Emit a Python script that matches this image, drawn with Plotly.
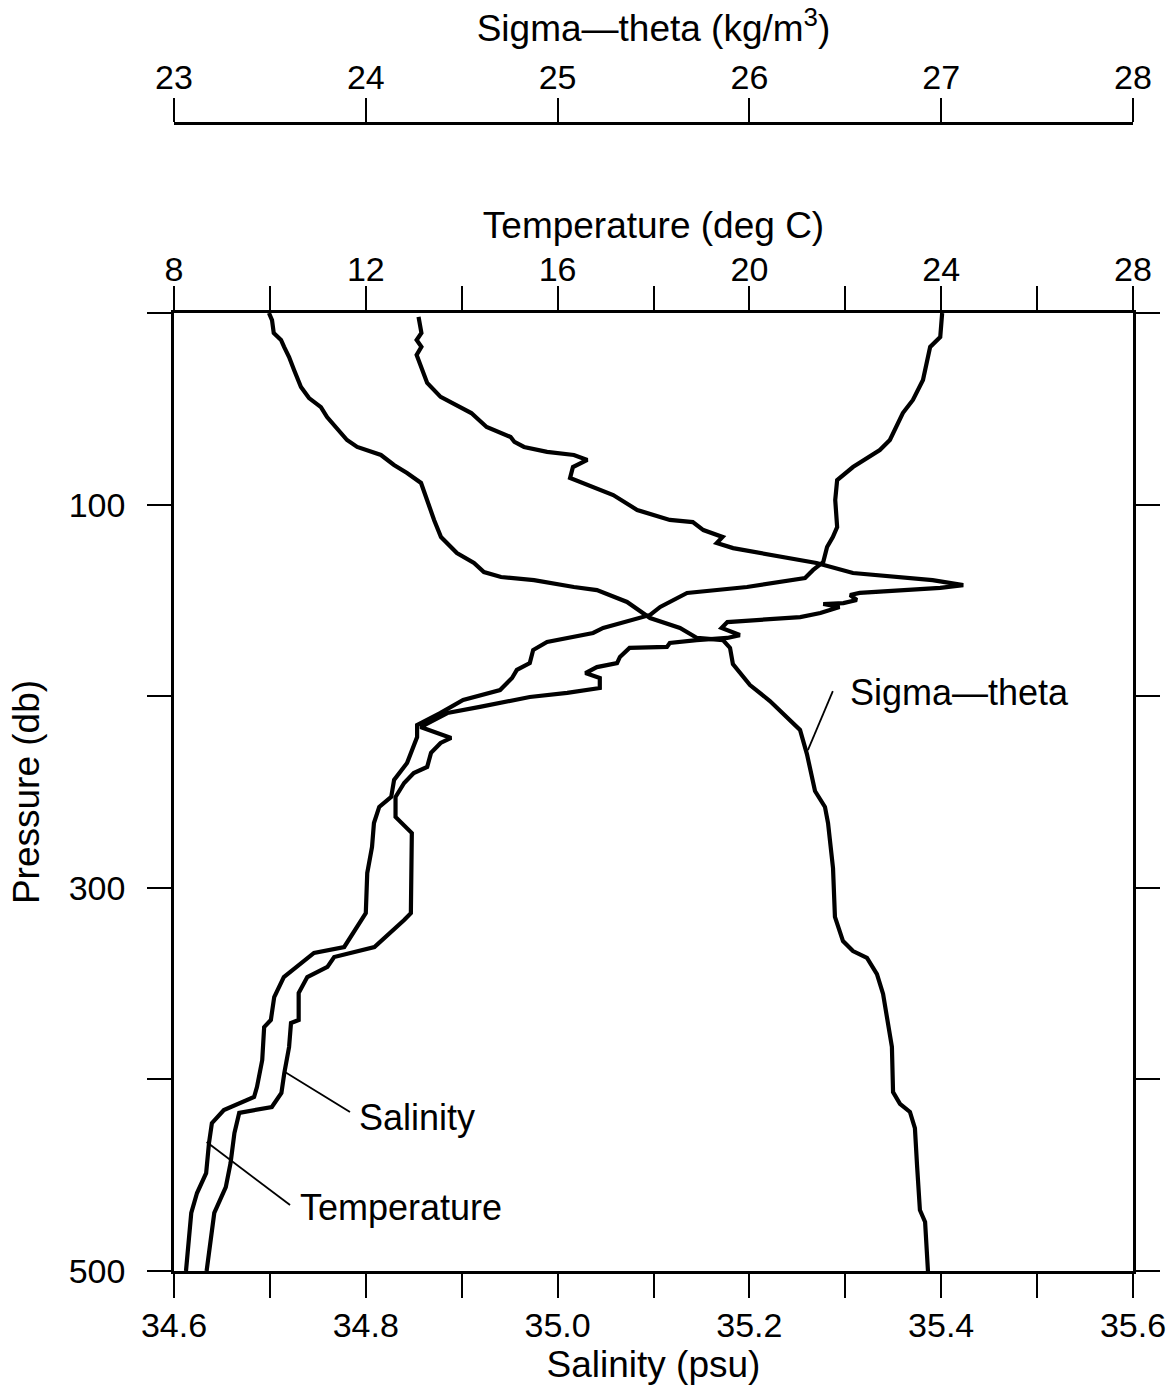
import plotly.graph_objects as go

# ---------------- data ----------------
temp_pressure = [0, 12.5, 17.7, 35.0, 45.4, 52.2, 66.3, 71.5, 80.4, 87.2, 97.6, 111.7, 116.9,
                 122.1, 130.0, 134.1, 138.3, 140.4, 143.0, 146.1, 149.8, 153.4, 157.6, 164.4,
                 167.0, 171.7, 175.9, 182.7, 186.3, 190.5, 196.8, 202.0, 208.8, 215.0, 221.3,
                 234.9, 243.7, 252.6, 257.8, 266.2, 278.7, 292.3, 313.2, 318.4, 330.9, 334.0,
                 339.2, 346.6, 357.0, 369.0, 372.7, 389.9, 404.0, 409.2, 416.0, 422.8, 433.2,
                 448.9, 459.3, 469.7, 500]
temperature = [24.02, 23.98, 23.77, 23.62, 23.41, 23.20, 22.93, 22.72, 22.16, 21.83, 21.79, 21.83,
               21.74, 21.62, 21.54, 21.33, 21.16, 20.58, 19.95, 18.70, 18.41, 18.14, 17.93, 16.95,
               16.74, 15.78, 15.49, 15.42, 15.15, 15.05, 14.80, 14.03, 13.55, 13.07, 13.07,
               12.86, 12.59, 12.53, 12.28, 12.17, 12.13, 12.03, 12.00, 11.86, 11.55, 10.92,
               10.65, 10.29, 10.09, 10.02, 9.88, 9.84, 9.73, 9.67, 9.04, 8.79, 8.73,
               8.67, 8.48, 8.36, 8.25]

sal_pressure = [2, 10.4, 14.1, 17.7, 21.9, 28.2, 36.5, 43.8, 49.1, 52.2, 59.5, 64.7, 67.3, 69.9,
                72.5, 74.1, 76.7, 80.4, 86.1, 92.4, 95.0, 102.8, 108.0, 109.1, 113.3, 116.9,
                120.0, 122.7, 127.9, 130.5, 135.7, 139.4, 142.0, 143.5, 146.1, 147.2, 149.8,
                151.4, 151.9, 153.4, 156.6, 157.6, 158.7, 161.3, 164.4, 168.1, 169.6, 170.7,
                172.2, 174.3, 174.8, 179.5, 182.7, 184.8, 187.9, 190.5, 195.7, 198.3, 200.4,
                205.6, 208.8, 216.1, 221.8, 224.4, 229.6, 236.9, 240.1, 245.3, 252.6, 263.0,
                271.4, 313.2, 316.8, 330.9, 336.1, 341.3, 346.6, 354.9, 369.0, 370.6, 383.1,
                396.7, 407.1, 414.4, 417.5, 428.0, 443.6, 456.2, 469.7, 500]
salinity = [34.855, 34.858, 34.853, 34.858, 34.853, 34.858, 34.864, 34.878, 34.899, 34.910,
            34.926, 34.951, 34.955, 34.965, 34.989, 35.017, 35.031, 35.016, 35.013, 35.044,
            35.058, 35.083, 35.117, 35.141, 35.152, 35.172, 35.166, 35.183, 35.245, 35.270,
            35.308, 35.391, 35.423, 35.399, 35.315, 35.305, 35.312, 35.298, 35.277, 35.294,
            35.274, 35.266, 35.253, 35.177, 35.171, 35.190, 35.177, 35.145, 35.117, 35.114,
            35.075, 35.065, 35.062, 35.041, 35.029, 35.044, 35.044, 35.010, 34.971, 34.919,
            34.885, 34.857, 34.889, 34.878, 34.868, 34.864, 34.850, 34.840, 34.831, 34.831,
            34.848, 34.847, 34.840, 34.809, 34.767, 34.760, 34.739, 34.730, 34.730, 34.722,
            34.720, 34.715, 34.712, 34.702, 34.668, 34.663, 34.659, 34.654, 34.642, 34.634]

sig_pressure = [0, 3.7, 10.4, 14.1, 17.7, 23.0, 29.7, 38.6, 44.4, 49.1, 54.3, 60.0, 66.3, 69.9,
                74.1, 79.3, 83.5, 88.7, 97.6, 108.0, 116.9, 125.3, 130.5, 135.2, 137.8, 139.4,
                143.0, 144.6, 150.8, 159.2, 164.4, 169.6, 170.7, 174.8, 183.2, 194.2, 202.5,
                217.6, 230.2, 249.5, 257.8, 266.2, 289.7, 315.2, 327.8, 333.0, 336.6, 345.0,
                355.4, 370.6, 383.1, 406.6, 412.8, 417.0, 425.4, 444.7, 468.2, 474.4, 500]
sigma_theta = [23.495, 23.511, 23.520, 23.558, 23.574, 23.600, 23.626, 23.662, 23.704, 23.766,
               23.798, 23.850, 23.902, 23.955, 24.079, 24.147, 24.215, 24.288, 24.319, 24.356,
               24.392, 24.475, 24.564, 24.616, 24.705, 24.877, 25.085, 25.205, 25.362, 25.482,
               25.638, 25.727, 25.862, 25.899, 25.914, 26.003, 26.107, 26.264, 26.300, 26.342,
               26.394, 26.410, 26.436, 26.446, 26.488, 26.540, 26.613, 26.665, 26.697, 26.723,
               26.743, 26.749, 26.785, 26.837, 26.863, 26.874, 26.889, 26.916, 26.931]

pressure_ticks = [0, 100, 200, 300, 400, 500]
pressure_labels = ["", "100", "", "300", "", "500"]
sal_ticks = [34.6, 34.7, 34.8, 34.9, 35.0, 35.1, 35.2, 35.3, 35.4, 35.5, 35.6]
sal_labels = ["34.6", "", "34.8", "", "35.0", "", "35.2", "", "35.4", "", "35.6"]
temp_ticks = [8, 10, 12, 14, 16, 18, 20, 22, 24, 26, 28]
temp_labels = ["8", "", "12", "", "16", "", "20", "", "24", "", "28"]
sig_ticks = [23, 24, 25, 26, 27, 28]
sig_labels = ["23", "24", "25", "26", "27", "28"]

# curve labels: (text, text salinity-x, text pressure, leader start S, leader start p, leader end S, leader end p)
curve_labels = [
    ("Sigma\u2014theta", 35.303, 198.3, 35.287, 197.3, 35.261, 228.1),
    ("Salinity", 34.7908, 420.1, 34.7835, 417.0, 34.7157, 396.1),
    ("Temperature", 34.729, 467.1, 34.721, 465.6, 34.634, 432.7),
]

# ---------------- figure ----------------
W, H = 1172, 1390
ML, MR, MT, MB = 174, 39, 123, 119
plot_h = 1271 - 313
paper_h = H - MT - MB
ydom_top = plot_h / paper_h

TICKFONT = dict(family="Liberation Sans, Arial, sans-serif", size=34, color="black")
TITLEFONT = dict(family="Liberation Sans, Arial, sans-serif", size=37, color="black")
LABELFONT = dict(family="Liberation Sans, Arial, sans-serif", size=36, color="black")

fig = go.Figure()
line_style = dict(color="black", width=4.2)
fig.add_trace(go.Scatter(x=salinity, y=sal_pressure, mode="lines", line=line_style,
                         xaxis="x", yaxis="y", name="Salinity", showlegend=False))
fig.add_trace(go.Scatter(x=temperature, y=temp_pressure, mode="lines", line=line_style,
                         xaxis="x2", yaxis="y", name="Temperature", showlegend=False))
fig.add_trace(go.Scatter(x=sigma_theta, y=sig_pressure, mode="lines", line=line_style,
                         xaxis="x3", yaxis="y", name="Sigma-theta", showlegend=False))

axis_common = dict(showgrid=False, zeroline=False, showline=True, linecolor="black",
                   linewidth=2.5, ticks="outside", ticklen=24, tickwidth=2, tickcolor="black",
                   tickfont=TICKFONT, automargin=False)

fig.update_layout(
    width=W, height=H,
    margin=dict(l=ML, r=MR, t=MT, b=MB, pad=0, autoexpand=False),
    paper_bgcolor="white", plot_bgcolor="white",
    showlegend=False,
    yaxis=dict(domain=[0, ydom_top], range=[500, 0], tickmode="array",
               tickvals=pressure_ticks, ticktext=pressure_labels, mirror="ticks",
               ticklabelstandoff=15,
               title=dict(text="Pressure (db)", font=TITLEFONT, standoff=18),
               **axis_common),
    xaxis=dict(range=[34.6, 35.6], tickmode="array", tickvals=sal_ticks, ticktext=sal_labels,
               anchor="y", side="bottom", ticklabelstandoff=-2,
               title=dict(text="Salinity (psu)", font=TITLEFONT, standoff=0),
               **axis_common),
    xaxis2=dict(range=[8, 28], tickmode="array", tickvals=temp_ticks, ticktext=temp_labels,
                anchor="y", side="top", overlaying="x", ticklabelstandoff=-8,
                title=dict(text="Temperature (deg C)", font=TITLEFONT, standoff=0),
                **axis_common),
    xaxis3=dict(range=[23, 28], tickmode="array", tickvals=sig_ticks, ticktext=sig_labels,
                anchor="free", position=1, side="top", overlaying="x", ticklabelstandoff=-4,
                title=dict(text="Sigma\u2014theta (kg/m<sup>3</sup>)", font=TITLEFONT, standoff=3),
                **axis_common),
)

for text, tx, tp, x0, y0, x1, y1 in curve_labels:
    fig.add_annotation(x=tx, y=tp, xref="x", yref="y", text=text, showarrow=False,
                       xanchor="left", yanchor="middle", font=LABELFONT)
    fig.add_shape(type="line", xref="x", yref="y", x0=x0, y0=y0, x1=x1, y1=y1,
                  line=dict(color="black", width=1.8))

fig.write_html("out.html")
